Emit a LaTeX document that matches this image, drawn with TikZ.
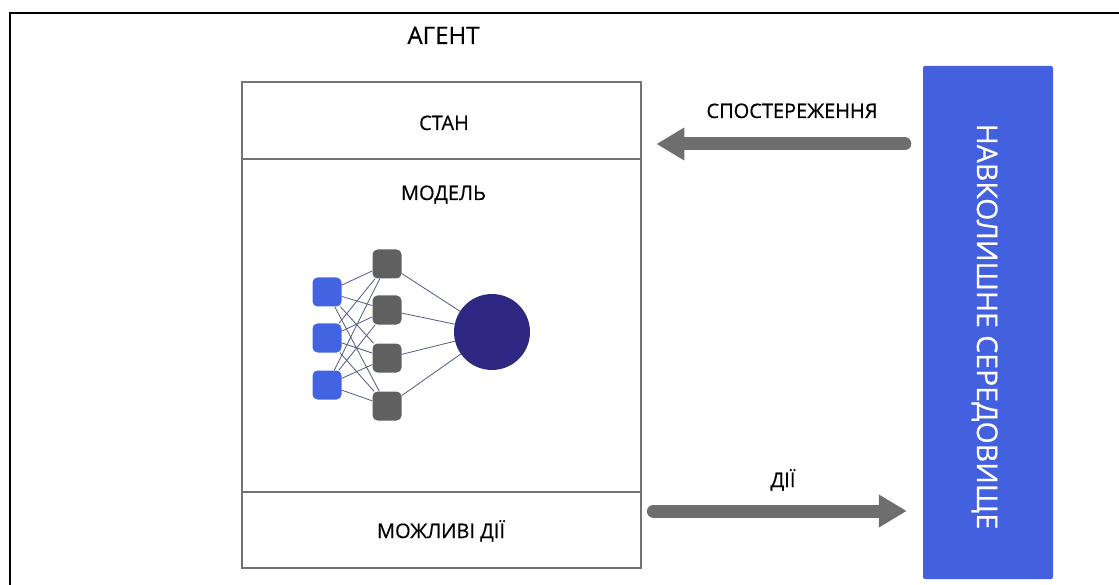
\documentclass[tikz,border=0pt]{standalone}
\usepackage{fontspec}
\setmainfont{Open Sans}
\newfontfamily\lblfont[FakeBold=0.5]{Open Sans}
\usepackage{tikz}
\usetikzlibrary{arrows.meta,positioning}

\definecolor{envblue}{RGB}{67,97,222}
\definecolor{inblue}{RGB}{66,99,226}
\definecolor{hidgrey}{RGB}{96,96,96}
\definecolor{outnavy}{RGB}{45,40,130}
\definecolor{wirecol}{RGB}{80,90,130}
\definecolor{boxgrey}{RGB}{115,115,115}
\definecolor{arrgrey}{RGB}{110,110,110}

\begin{document}
\begin{tikzpicture}[x=1pt, y=-1pt,
    part/.style={draw=boxgrey, line width=2.8pt, minimum width=399pt, inner sep=0pt},
    lbl/.style={font=\lblfont\fontsize{20}{24}\selectfont, inner sep=0pt, anchor=base},
    insq/.style={fill=inblue, rounded corners=5pt, minimum size=29pt, inner sep=0pt},
    hidsq/.style={fill=hidgrey, rounded corners=5pt, minimum size=29pt, inner sep=0pt},
    outc/.style={circle, fill=outnavy, minimum size=76pt, inner sep=0pt},
    wire/.style={draw=wirecol, line width=0.8pt},
    bigarrow/.style={draw=arrgrey, line width=13pt, line cap=round, -{Triangle[length=28pt,width=31pt]}}]
\useasboundingbox (0,0) rectangle (1119,585);
\draw[line width=2pt] (10,585) -- (10,13) -- (1119,13);

\node[part, minimum height=77pt] (stan) at (441.5,120.5) {};
\node[part, minimum height=333pt] (model) at (441.5,325.5) {};
\node[part, minimum height=76pt] (acts) at (441.5,530) {};
\node[lbl] (stanlbl) at (444,130) {СТАН};
\node[lbl] (modlbl) at (443.5,200) {МОДЕЛЬ};
\node[lbl] (actslbl) at (441,538) {МОЖЛИВІ ДІЇ};
\node[lbl, font=\lblfont\fontsize{24}{28}\selectfont] (agent) at (443.5,44) {АГЕНТ};

\foreach \i/\y in {1/292, 2/338, 3/385}
    \node[insq] (in\i) at (327,\y) {};
\foreach \j/\y in {1/264, 2/310, 3/358, 4/406}
    \node[hidsq] (h\j) at (387,\y) {};
\node[outc] (out) at (492,332) {};
\foreach \i in {1,2,3}
    \foreach \j in {1,2,3,4}
        \draw[wire] (in\i) -- (h\j);
\foreach \j in {1,2,3,4}
    \draw[wire] (h\j) -- (out);

\node[fill=envblue, rounded corners=2pt, minimum width=130pt, minimum height=513pt] (env) at (988,322.5) {};
\node[lbl, text=white, font=\lblfont\fontsize{28.5}{32}\selectfont, rotate=-90] (envlbl) at (977,326.5) {НАВКОЛИШНЕ СЕРЕДОВИЩЕ};

\draw[bigarrow, shorten <=18pt, shorten >=14pt] (env.west |- 0,144) -- (model.east |- 0,144);
\draw[bigarrow, shorten <=11pt, shorten >=16pt] (model.east |- 0,511) -- (env.west |- 0,511);
\node[lbl] (obs) at (792,118) {СПОСТЕРЕЖЕННЯ};
\node[lbl] (act) at (783,487) {ДІЇ};
\end{tikzpicture}
\end{document}
